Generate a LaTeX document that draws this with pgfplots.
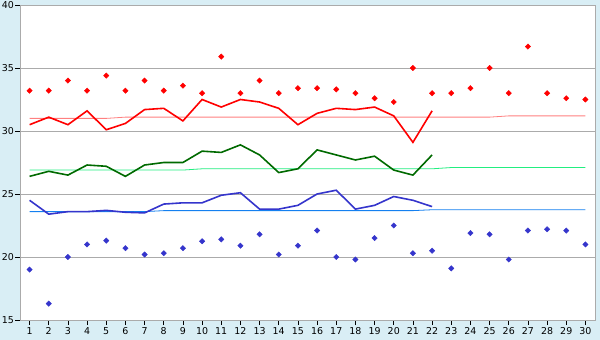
\documentclass[border=0pt]{standalone}
\usepackage{pgfplots}
\pgfplotsset{compat=1.18}
\usetikzlibrary{calc,backgrounds}
\usepackage{fontspec}
\setmainfont{DejaVu Sans}
\definecolor{bg}{HTML}{D9EEF5}
\definecolor{gridgray}{HTML}{ABABAB}
\definecolor{hired}{HTML}{FF0000}
\definecolor{hinorm}{HTML}{FF8080}
\definecolor{avggreen}{HTML}{006A00}
\definecolor{avgnorm}{HTML}{22EE80}
\definecolor{loblue}{HTML}{3535CC}
\definecolor{lonorm}{HTML}{1480F0}
\begin{document}
\begin{tikzpicture}
\begin{axis}[
  scale only axis, width=575bp, height=315bp,
  xmin=0.5, xmax=30.5, ymin=15, ymax=40,
  xtick={1,...,30}, ytick={15,20,...,40},
  ymajorgrids,
  grid style={color=gridgray, line width=0.8bp},
  axis line style={gridgray, line width=0.8bp},
  tick style={black, line width=0.6bp},
  major tick length=5bp, tick align=outside,
  xtick pos=bottom, ytick pos=left,
  axis background/.style={fill=white},
  tick label style={font=\fontsize{9.5}{10}\selectfont, black},
  /pgf/number format/assume math mode=true,
  xticklabel style={inner sep=1bp, yshift=-1bp},
  yticklabel style={inner sep=1bp},
  clip=false,
]
\coordinate (pll) at (rel axis cs:0,0);
\coordinate (pur) at (rel axis cs:1,1);
% normals
\addplot[hinorm, line width=0.8bp] coordinates {(1,31.0)(5,31.0)(6,31.1)(25,31.1)(26,31.2)(30,31.2)};
\addplot[avgnorm, line width=0.8bp] coordinates {(1,26.9)(9,26.9)(10,27.0)(22,27.0)(23,27.1)(30,27.1)};
\addplot[lonorm, line width=0.8bp] coordinates {(1,23.6)(7,23.6)(8,23.68)(21,23.68)(22,23.75)(30,23.75)};
% max line
\addplot[hired, line width=1.6bp] coordinates {
(1,30.5)(2,31.1)(3,30.5)(4,31.6)(5,30.1)(6,30.6)(7,31.7)(8,31.8)(9,30.8)(10,32.5)
(11,31.9)(12,32.5)(13,32.3)(14,31.8)(15,30.5)(16,31.4)(17,31.8)(18,31.7)(19,31.9)(20,31.2)
(21,29.1)(22,31.6)};
% avg line
\addplot[avggreen, line width=1.6bp] coordinates {
(1,26.4)(2,26.8)(3,26.5)(4,27.3)(5,27.2)(6,26.4)(7,27.3)(8,27.5)(9,27.5)(10,28.4)
(11,28.3)(12,28.9)(13,28.1)(14,26.7)(15,27.0)(16,28.5)(17,28.1)(18,27.7)(19,28.0)(20,26.9)
(21,26.5)(22,28.1)};
% min line
\addplot[loblue, line width=1.6bp] coordinates {
(1,24.5)(2,23.4)(3,23.6)(4,23.6)(5,23.7)(6,23.55)(7,23.5)(8,24.2)(9,24.3)(10,24.3)
(11,24.9)(12,25.1)(13,23.8)(14,23.8)(15,24.1)(16,25.0)(17,25.3)(18,23.8)(19,24.1)(20,24.8)
(21,24.5)(22,24.0)};
% record highs
\addplot[only marks, mark=square*, mark size=1.9bp, mark options={rotate=45}, color=hired] coordinates {
(1,33.2)(2,33.2)(3,34.0)(4,33.2)(5,34.4)(6,33.2)(7,34.0)(8,33.2)(9,33.6)(10,33.0)
(11,35.9)(12,33.0)(13,34.0)(14,33.0)(15,33.4)(16,33.4)(17,33.3)(18,33.0)(19,32.6)(20,32.3)
(21,35.0)(22,33.0)(23,33.0)(24,33.4)(25,35.0)(26,33.0)(27,36.7)(28,33.0)(29,32.6)(30,32.5)};
% record lows
\addplot[only marks, mark=square*, mark size=1.9bp, mark options={rotate=45}, color=loblue] coordinates {
(1,19.0)(2,16.3)(3,20.0)(4,21.0)(5,21.3)(6,20.7)(7,20.2)(8,20.3)(9,20.7)(10,21.25)
(11,21.4)(12,20.9)(13,21.8)(14,20.2)(15,20.9)(16,22.1)(17,20.0)(18,19.8)(19,21.5)(20,22.5)
(21,20.3)(22,20.5)(23,19.1)(24,21.9)(25,21.8)(26,19.8)(27,22.1)(28,22.2)(29,22.1)(30,21.0)};
\end{axis}
\begin{scope}[on background layer]
\fill[bg] ($(pll)+(-20bp,-20bp)$) rectangle ($(pur)+(5bp,5bp)$);
\end{scope}
\pgfresetboundingbox
\path[use as bounding box] ($(pll)+(-20bp,-20bp)$) rectangle ($(pur)+(5bp,5bp)$);
\end{tikzpicture}
\end{document}
